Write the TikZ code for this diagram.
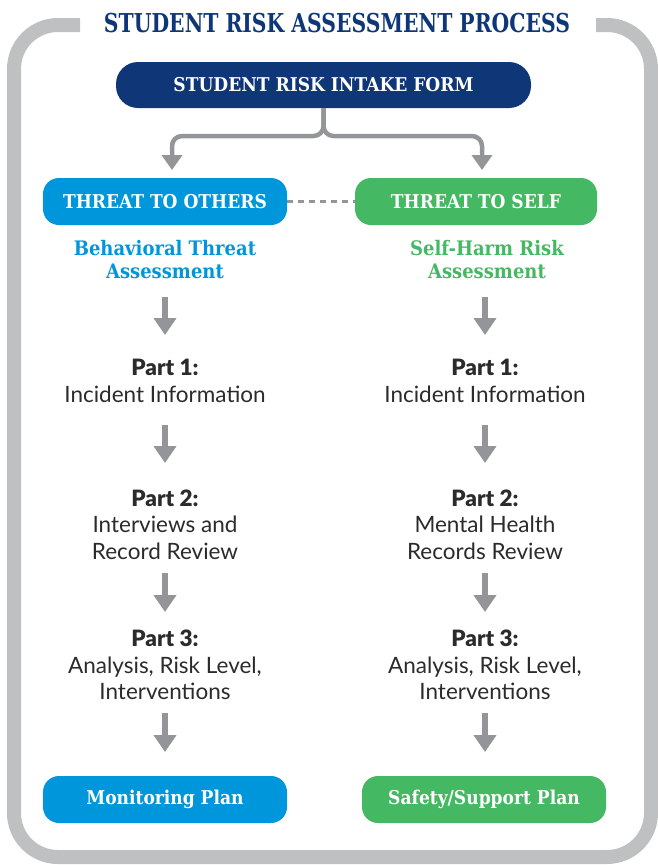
\documentclass[tikz,border=0pt]{standalone}
\usepackage{fontspec}
\usepackage{graphicx}
\setmainfont{Lato}[BoldFont={Lato Black}]
\newfontfamily\slab{DejaVu Serif Condensed}
\usetikzlibrary{arrows.meta}
\definecolor{navy}{HTML}{0F3778}
\definecolor{tblue}{HTML}{0096DB}
\definecolor{tgreen}{HTML}{45B864}
\definecolor{agray}{HTML}{939598}
\definecolor{fgray}{HTML}{BFC0C2}
\definecolor{txt}{HTML}{2B2B2B}
\tikzset{
  pill/.style={rounded corners=16pt, minimum width=244pt, minimum height=47pt, inner sep=0pt, text=white, font=\slab\bfseries\fontsize{19}{23}\selectfont},
  sub/.style={align=center, font=\slab\bfseries\fontsize{20}{23}\selectfont},
  part/.style={align=center, text=txt, font=\fontsize{22.5}{26.5}\selectfont},
  arr/.style={draw=agray, line width=6pt, -{Triangle[width=22pt,length=17pt]}},
  conn/.style={draw=agray, line width=4.5pt, rounded corners=10pt, -{Triangle[width=20pt,length=15pt]}},
}
\begin{document}
\begin{tikzpicture}[x=1pt,y=-1pt]
\useasboundingbox (0,0) rectangle (657,865);
% frame
\draw[fgray, line width=14pt, rounded corners=44pt] (80,25) -- (14,25) -- (14,857) -- (651,857) -- (651,25) -- (596,25);
\node (title) at (337,23) {\slab\bfseries\fontsize{26}{30}\selectfont\color{navy}\scalebox{0.87}[1]{STUDENT RISK ASSESSMENT PROCESS}};
% intake
\node[fill=navy, rounded corners=22pt, minimum width=415pt, minimum height=46pt, inner sep=0pt, text=white, font=\slab\bfseries\fontsize{19}{23}\selectfont] (intake) at (323.5,85) {STUDENT RISK INTAKE FORM};
\node[pill, fill=tblue] (others) at (165,201.5) {THREAT TO OTHERS};
\node[pill, fill=tgreen, minimum width=242pt] (self) at (476,201.5) {THREAT TO SELF};
\coordinate (la) at (172,170);
\coordinate (ra) at (482,170);
\draw[conn] (intake.south) -- (323.5,136) -- (172,136) -- (la);
\draw[conn] (intake.south) -- (323.5,136) -- (482,136) -- (ra);
\draw[agray, line width=2.5pt, dash pattern=on 6pt off 5pt] (others.east) -- (self.west);
% subtitles
\node[sub, text=tblue] (bta) at (165,259.5) {Behavioral Threat\\Assessment};
\node[sub, text=tgreen] (sha) at (487,259.5) {Self-Harm Risk\\Assessment};
% left column
\node[part] (l1) at (165,381) {\textbf{Part 1:}\\Incident Information};
\node[part] (l2) at (165,524.5) {\textbf{Part 2:}\\Interviews and\\Record Review};
\node[part] (l3) at (165,665) {\textbf{Part 3:}\\Analysis, Risk Level,\\Interventions};
\node[pill, fill=tblue] (mon) at (165,799.5) {Monitoring Plan};
% right column
\node[part] (r1) at (485,381) {\textbf{Part 1:}\\Incident Information};
\node[part] (r2) at (485,524.5) {\textbf{Part 2:}\\Mental Health\\Records Review};
\node[part] (r3) at (485,665) {\textbf{Part 3:}\\Analysis, Risk Level,\\Interventions};
\node[pill, fill=tgreen] (saf) at (484,799.5) {Safety/Support Plan};
% arrows
\foreach \x/\n in {165/l,485/r}{
  \coordinate (\n a1) at (\x,297); \coordinate (\n b1) at (\x,335);
  \coordinate (\n a2) at (\x,425); \coordinate (\n b2) at (\x,463);
  \coordinate (\n a3) at (\x,573); \coordinate (\n b3) at (\x,612);
  \coordinate (\n a4) at (\x,713); \coordinate (\n b4) at (\x,752);
  \foreach \i in {1,2,3,4}{ \draw[arr] (\n a\i) -- (\n b\i); }
}
\end{tikzpicture}
\end{document}
